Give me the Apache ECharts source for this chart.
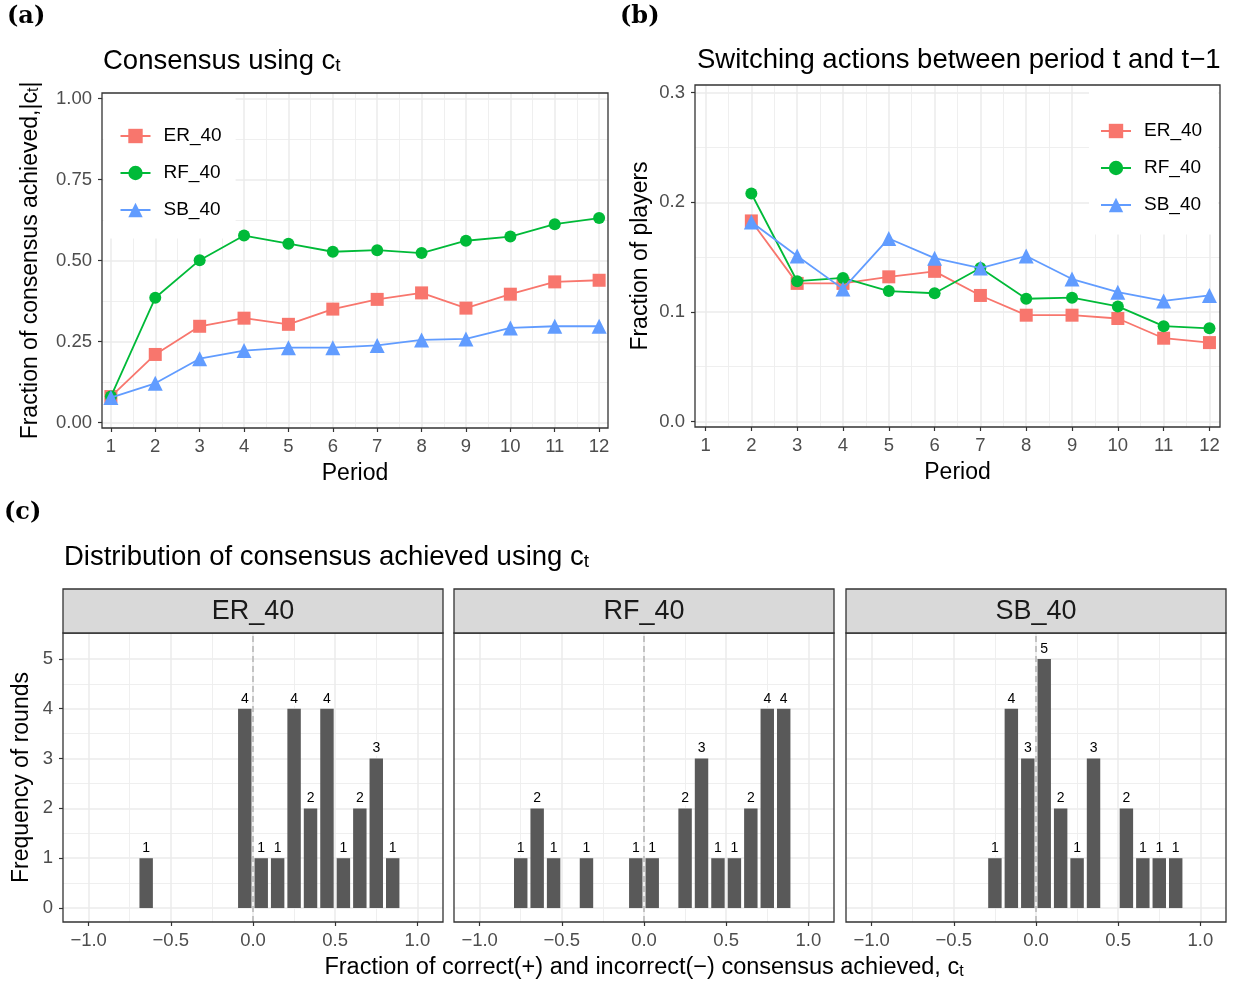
<!DOCTYPE html>
<html><head><meta charset="utf-8">
<script src="https://cdn.jsdelivr.net/npm/echarts@6/dist/echarts.min.js"></script>
<style>html,body{margin:0;padding:0;background:#fff}#c{width:1233px;height:982px}</style>
</head><body><div id="c"></div>
<script>
// ---------------- data ----------------
const seriesNames = ['ER_40', 'RF_40', 'SB_40'];
const periods = [1, 2, 3, 4, 5, 6, 7, 8, 9, 10, 11, 12];
const consER = [0.080, 0.210, 0.297, 0.322, 0.303, 0.350, 0.380, 0.400, 0.353, 0.396, 0.434, 0.439];
const consRF = [0.080, 0.385, 0.501, 0.577, 0.552, 0.527, 0.532, 0.523, 0.561, 0.574, 0.612, 0.631];
const consSB = [0.077, 0.121, 0.197, 0.222, 0.231, 0.231, 0.238, 0.255, 0.258, 0.292, 0.297, 0.297];
const switchPeriods = [2, 3, 4, 5, 6, 7, 8, 9, 10, 11, 12];
const switchER = [0.183, 0.126, 0.126, 0.132, 0.137, 0.115, 0.097, 0.097, 0.094, 0.076, 0.072];
const switchRF = [0.208, 0.128, 0.131, 0.119, 0.117, 0.140, 0.112, 0.113, 0.105, 0.087, 0.085];
const switchSB = [0.182, 0.151, 0.121, 0.167, 0.149, 0.140, 0.151, 0.130, 0.118, 0.110, 0.115];
const erBins = [-0.65, -0.05, 0.05, 0.15, 0.25, 0.35, 0.45, 0.55, 0.65, 0.75, 0.85];
const erCounts = [1, 4, 1, 1, 4, 2, 4, 1, 2, 3, 1];
const rfBins = [-0.75, -0.65, -0.55, -0.35, -0.05, 0.05, 0.25, 0.35, 0.45, 0.55, 0.65, 0.75, 0.85];
const rfCounts = [1, 2, 1, 1, 1, 1, 2, 3, 1, 1, 2, 4, 4];
const sbBins = [-0.25, -0.15, -0.05, 0.05, 0.15, 0.25, 0.35, 0.55, 0.65, 0.75, 0.85];
const sbCounts = [1, 4, 3, 5, 2, 1, 3, 2, 1, 1, 1];
const binWidth = 0.1;
// tick values
const periodTicks = [1, 2, 3, 4, 5, 6, 7, 8, 9, 10, 11, 12];
const periodMinor = [1.5, 2.5, 3.5, 4.5, 5.5, 6.5, 7.5, 8.5, 9.5, 10.5, 11.5];
const consTicks = [0, 0.25, 0.5, 0.75, 1];
const consMinor = [0.125, 0.375, 0.625, 0.875];
const switchTicks = [0, 0.1, 0.2, 0.3];
const switchMinor = [0.05, 0.15, 0.25];
const fracTicks = [-1, -0.5, 0, 0.5, 1];
const fracMinor = [-0.75, -0.25, 0.25, 0.75];
const countTicks = [0, 1, 2, 3, 4, 5];
const countMinor = [0.5, 1.5, 2.5, 3.5, 4.5];

// ---------------- styles / layout ----------------
const FONT = 'Liberation Sans';
const colors = ['#F8766D', '#00BA38', '#619CFF'];
const symbols = ['rect', 'circle', 'triangle'];
const symbolSizes = [13, 12, 15];
const G = [
  {left: 102, top: 93, width: 506, height: 335},
  {left: 695, top: 85, width: 525, height: 342},
  {left: 63, top: 633, width: 380, height: 289},
  {left: 454, top: 633, width: 380, height: 289},
  {left: 846, top: 633, width: 380, height: 289}
];
const xExt = [[0.8, 12.2], [0.77, 12.23], [-1.156, 1.156], [-1.156, 1.156], [-1.156, 1.156]];
const yExt = [[-0.017, 1.017], [-0.005, 0.307], [-0.28, 5.52], [-0.28, 5.52], [-0.28, 5.52]];

const fmt2 = v => (v < 0 ? '\u2212' : '') + Math.abs(v).toFixed(2);
const fmt1 = v => (v < 0 ? '\u2212' : '') + Math.abs(v).toFixed(1);
const fmt0 = v => (v < 0 ? '\u2212' : '') + Math.abs(Math.round(v));

const subRich = (main, sub) => ({
  m: {fontSize: main, fontFamily: FONT, fontWeight: 'normal', color: '#000'},
  s: {fontSize: sub, fontFamily: FONT, fontWeight: 'normal', color: '#000', verticalAlign: 'bottom',
      lineHeight: Math.round(sub * 0.9)}
});
const nameStyle = {fontSize: 23, fontFamily: FONT, fontWeight: 'normal', color: '#000'};

function majorAxis(gi, ext, ticks, fmt, showTicks, showLabels, margin, extra) {
  return Object.assign({
    type: 'value', gridIndex: gi, min: ext[0], max: ext[1],
    axisLine: {show: false, onZero: false},
    axisTick: {show: showTicks, length: 4, customValues: ticks, lineStyle: {color: '#333', width: 1.2}},
    axisLabel: {show: showLabels, customValues: ticks, formatter: fmt, color: '#4d4d4d', fontSize: 18.5, fontFamily: FONT, margin: margin},
    splitLine: {show: true, lineStyle: {color: '#ebebeb', width: 1.5}},
    minorTick: {show: false}, minorSplitLine: {show: false}
  }, extra || {});
}
function minorAxis(gi, ext, vals) {
  return {
    type: 'value', gridIndex: gi, min: ext[0], max: ext[1],
    axisLine: {show: false, onZero: false},
    axisTick: {show: false, customValues: vals},
    axisLabel: {show: false, customValues: vals},
    splitLine: {show: true, lineStyle: {color: '#ededed', width: 0.9}}
  };
}

const xAxes = [
  majorAxis(0, xExt[0], periodTicks, fmt0, true, true, 9, {name: 'Period', nameLocation: 'middle', nameGap: 34, nameTextStyle: nameStyle}),
  majorAxis(1, xExt[1], periodTicks, fmt0, true, true, 9, {name: 'Period', nameLocation: 'middle', nameGap: 34, nameTextStyle: nameStyle}),
  majorAxis(2, xExt[2], fracTicks, fmt1, true, true, 9),
  majorAxis(3, xExt[3], fracTicks, fmt1, true, true, 9, {
    name: '{m|Fraction of correct(+) and incorrect(\u2212) consensus achieved, c}{s|t}',
    nameLocation: 'middle', nameGap: 34,
    nameTextStyle: {rich: subRich(23.5, 16)}
  }),
  majorAxis(4, xExt[4], fracTicks, fmt1, true, true, 9),
  minorAxis(0, xExt[0], periodMinor),
  minorAxis(1, xExt[1], periodMinor),
  minorAxis(2, xExt[2], fracMinor),
  minorAxis(3, xExt[3], fracMinor),
  minorAxis(4, xExt[4], fracMinor)
];
const yAxes = [
  majorAxis(0, yExt[0], consTicks, fmt2, true, true, 10, {
    name: '{m|Fraction of consensus achieved,|c}{s|t}{m||}', nameLocation: 'middle', nameGap: 60,
    nameTextStyle: {rich: subRich(23, 16)}
  }),
  majorAxis(1, yExt[1], switchTicks, fmt1, true, true, 10, {
    name: 'Fraction of players', nameLocation: 'middle', nameGap: 43, nameTextStyle: nameStyle
  }),
  majorAxis(2, yExt[2], countTicks, fmt0, true, true, 10, {
    name: 'Frequency of rounds', nameLocation: 'middle', nameGap: 30, nameTextStyle: nameStyle
  }),
  majorAxis(3, yExt[3], countTicks, fmt0, false, false, 10),
  majorAxis(4, yExt[4], countTicks, fmt0, false, false, 10),
  minorAxis(0, yExt[0], consMinor),
  minorAxis(1, yExt[1], switchMinor),
  minorAxis(2, yExt[2], countMinor),
  minorAxis(3, yExt[3], countMinor),
  minorAxis(4, yExt[4], countMinor)
];

function lineSeries(name, k, gi, xs, ys) {
  return {
    type: 'line', name: name, xAxisIndex: gi, yAxisIndex: gi,
    data: xs.map((x, i) => [x, ys[i]]),
    symbol: symbols[k], symbolSize: symbolSizes[k], showSymbol: true,
    lineStyle: {color: colors[k], width: 1.8},
    itemStyle: {color: colors[k]},
    z: 3 + k, animation: false
  };
}
function histSeries(gi, bins, counts) {
  const g = G[gi], ext = xExt[gi];
  const pxPerUnit = g.width / (ext[1] - ext[0]);
  return {
    type: 'bar', xAxisIndex: gi, yAxisIndex: gi,
    data: bins.map((b, i) => [b, counts[i]]),
    barWidth: binWidth * pxPerUnit - 3,
    itemStyle: {color: '#595959'},
    label: {show: true, position: 'top', distance: 3, color: '#000', fontSize: 14, fontFamily: FONT,
      backgroundColor: '#fff', padding: [1, 2, 0, 2]},
    markLine: {silent: true, symbol: 'none', animation: false,
      lineStyle: {color: '#b8b8b8', type: [6, 4], width: 1.6},
      label: {show: false}, data: [{xAxis: 0}]},
    animation: false
  };
}

const series = [
  lineSeries(seriesNames[0], 0, 0, periods, consER),
  lineSeries(seriesNames[1], 1, 0, periods, consRF),
  lineSeries(seriesNames[2], 2, 0, periods, consSB),
  lineSeries(seriesNames[0], 0, 1, switchPeriods, switchER),
  lineSeries(seriesNames[1], 1, 1, switchPeriods, switchRF),
  lineSeries(seriesNames[2], 2, 1, switchPeriods, switchSB),
  histSeries(2, erBins, erCounts),
  histSeries(3, rfBins, rfCounts),
  histSeries(4, sbBins, sbCounts)
];

const legendCommon = {
  orient: 'vertical', data: seriesNames, itemWidth: 30, itemHeight: 18, itemGap: 18,
  backgroundColor: '#fff', borderWidth: 0, selectedMode: false,
  textStyle: {fontSize: 19, fontFamily: FONT, color: '#000', padding: [0, 0, 0, 8]}, z: 4
};

const labelStyle = {fontFamily: 'DejaVu Serif', fontWeight: 'bold', fontSize: 24, color: '#000'};
const titles = [
  {text: '(a)', left: 7, top: 5, padding: 0, textStyle: labelStyle},
  {text: '(b)', left: 620, top: 5, padding: 0, textStyle: labelStyle},
  {text: '(c)', left: 4, top: 501, padding: 0, textStyle: labelStyle},
  {text: '{m|Consensus using c}{s|t}', left: 103, top: 47, padding: 0, textStyle: {rich: subRich(27.5, 19)}},
  {text: 'Switching actions between period t and t\u22121', left: 697, top: 46, padding: 0,
    textStyle: {fontSize: 27.5, fontFamily: FONT, fontWeight: 'normal', color: '#000'}},
  {text: '{m|Distribution of consensus achieved using c}{s|t}', left: 64, top: 543, padding: 0, textStyle: {rich: subRich(27.5, 19)}}
];

const stripNames = ['ER_40', 'RF_40', 'SB_40'];
const graphics = [];
stripNames.forEach((n, i) => {
  const g = G[i + 2];
  graphics.push({type: 'rect', shape: {x: g.left, y: g.top - 44, width: g.width, height: 44},
    style: {fill: '#d9d9d9', stroke: '#333', lineWidth: 1.3}, z: 10});
  graphics.push({type: 'text', x: g.left + g.width / 2, y: g.top - 21,
    style: {text: n, font: '27px "Liberation Sans"', fill: '#1a1a1a', align: 'center', verticalAlign: 'middle'}, z: 11});
});

const chart = echarts.init(document.getElementById('c'), null, {renderer: 'canvas'});
chart.setOption({
  backgroundColor: '#fff',
  animation: false,
  title: titles,
  grid: G.map(g => Object.assign({}, g, {show: true, borderColor: '#333', borderWidth: 1.3,
    backgroundColor: 'transparent', containLabel: false, outerBoundsMode: 'none', z: 6})),
  xAxis: xAxes,
  yAxis: yAxes,
  legend: [
    Object.assign({}, legendCommon, {left: 103.5, top: 93.5, padding: [33, 14, 19, 16]}),
    Object.assign({}, legendCommon, {left: 1089, top: 85.5, padding: [36, 16, 20, 11]})
  ],
  graphic: graphics,
  series: series
});
</script>
</body></html>
